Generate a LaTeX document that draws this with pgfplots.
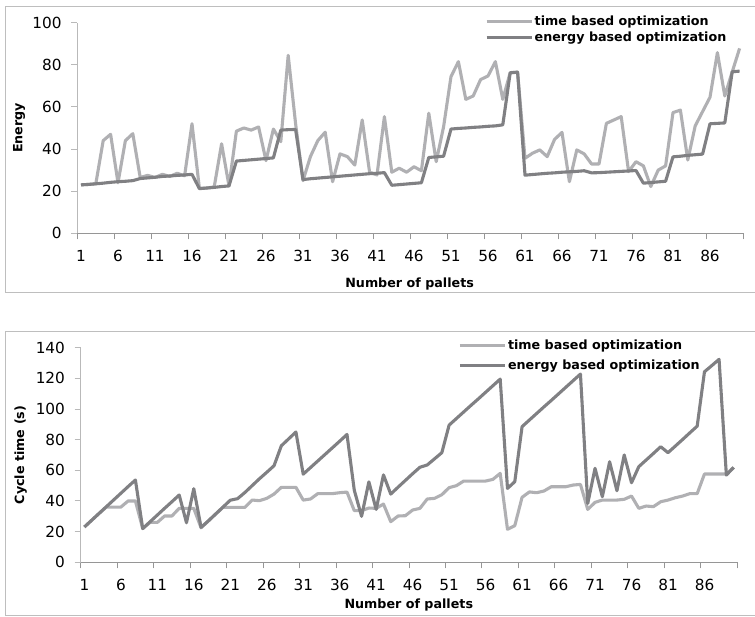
\documentclass[border=0pt]{standalone}
\usepackage{fontspec}
\setmainfont{DejaVu Sans}
\usepackage{pgfplots}
\usepackage{pgfplotstable}
\pgfplotsset{compat=1.18}
\definecolor{lightline}{RGB}{176,176,179}
\definecolor{darkline}{RGB}{128,128,131}
\definecolor{axiscol}{RGB}{150,150,150}
\definecolor{yaxiscol}{RGB}{185,185,185}
\definecolor{boxcol}{RGB}{190,190,190}
\newcommand{\tickfont}{\fontsize{15.3}{17}\selectfont}
\newcommand{\titlefont}{\fontsize{12.7}{15}\selectfont\bfseries}

\pgfplotstableread{
i T E
1 23 23
2 23.2 23.2
3 23.5 23.5
4 44 23.8
5 47 24.2
6 24 24.5
7 44 24.7
8 47.3 25
9 26.5 26
10 27.5 26.3
11 26.5 26.6
12 28 27
13 27 27.2
14 28.5 27.5
15 27.3 27.7
16 52 28
17 21.3 21.2
18 21.5 21.5
19 22 21.8
20 42.5 22.2
21 22.5 22.5
22 48.5 34.3
23 50 34.6
24 49 34.9
25 50.5 35.2
26 34.5 35.5
27 49.5 35.8
28 43.5 49
29 84.5 49.2
30 52 49.3
31 25 25.5
32 36.4 25.9
33 44 26.2
34 48 26.5
35 24.5 26.8
36 37.7 27.1
37 36.4 27.4
38 32.4 27.7
39 53.8 28
40 29 28.3
41 27.7 28.5
42 55.4 28.8
43 29 22.8
44 30.9 23.1
45 29 23.4
46 31.6 23.7
47 29.7 24
48 57 36
49 34 36.3
50 50.6 36.6
51 74.4 49.5
52 81.5 49.8
53 63.6 50
54 65.2 50.3
55 73 50.5
56 74.7 50.8
57 81.5 51
58 63.6 51.5
59 76.3 76.2
60 76.5 76.5
61 35.6 27.6
62 38 27.9
63 39.6 28.2
64 36.4 28.5
65 44.6 28.7
66 47.9 29
67 24.5 29.2
68 39.6 29.4
69 37.7 29.7
70 32.9 28.7
71 32.9 28.8
72 52.2 29
73 53.8 29.2
74 55.4 29.4
75 29.3 29.6
76 34 29.8
77 32 23.8
78 22.2 24.1
79 30 24.4
80 32 24.7
81 57.3 36.3
82 58.5 36.6
83 34.8 37
84 51 37.3
85 57.8 37.6
86 64.6 52
87 85.8 52.2
88 65.2 52.4
89 76.6 76.7
90 87.8 77
}\energytable

\pgfplotstableread{
i T E
1 23 23
2 27.4 27.4
3 31.8 31.8
4 36 36.2
5 36 40.6
6 36 45
7 40 49.4
8 40 53.7
9 22 22
10 26 26.4
11 26 30.8
12 30.2 35.2
13 30.2 39.5
14 35.2 43.9
15 35.2 25.8
16 35.2 48
17 22.5 22.8
18 27 27
19 31.5 31.5
20 35.8 36
21 35.8 40.5
22 35.8 41.5
23 35.8 45.5
24 40.6 50
25 40.2 54.5
26 41.7 58.7
27 44.5 63
28 48.9 76
29 48.9 80.5
30 48.9 85
31 40.6 57.5
32 41.3 61.8
33 44.8 66.1
34 44.8 70.4
35 44.8 74.7
36 45.4 79
37 45.8 83.4
38 33.7 47
39 33.7 30
40 35.4 52.5
41 35.2 34.5
42 38 57
43 26.5 44.5
44 30.2 49
45 30.4 53.4
46 34.1 57.8
47 35.2 62
48 41.3 63.5
49 41.7 67.5
50 44.1 71.5
51 48.7 89.5
52 50 93.8
53 53 98.1
54 53 102.4
55 53 106.6
56 53 110.9
57 54.1 115.2
58 58 119.5
59 21.5 48.2
60 23.9 52.6
61 42.4 88.5
62 45.9 92.8
63 45.4 97.1
64 46.5 101.4
65 49.3 105.6
66 49.3 109.9
67 49.3 114.2
68 50.4 118.5
69 50.8 122.8
70 34.5 38.4
71 39.1 61.3
72 40.6 42.8
73 40.6 65.6
74 40.6 46.7
75 41.1 70
76 43.2 51.9
77 35.2 62.4
78 36.7 66.7
79 36.3 71
80 39.5 75.4
81 40.6 71.5
82 42.1 75.8
83 43.2 80.1
84 44.8 84.5
85 44.8 88.8
86 57.6 124.3
87 57.6 128.3
88 57.6 132.4
89 57.6 56.9
90 61.9 61.9
}\cycletable

\pgfplotsset{
  mystyle/.style={
    scale only axis,
    anchor=south west,
    xmin=0.5, xmax=90.5,
    ymin=0,
    axis x line*=bottom,
    axis y line*=left,
    x axis line style={-, draw=axiscol, line width=1.5pt},
    y axis line style={-, draw=yaxiscol, line width=1.5pt},
    tick align=outside,
    major tick length=6pt,
    xtick={0.5,5.5,...,90.5},
    xticklabels={1,6,11,16,21,26,31,36,41,46,51,56,61,66,71,76,81,86,{}},
    x tick style={draw=axiscol, line width=1pt},
    y tick style={draw=yaxiscol, line width=1pt},
    xticklabel style={font=\tickfont, xshift=3.7pt, yshift=-7.5pt},
    yticklabel style={font=\tickfont, xshift=-6.2pt},
    /pgf/number format/assume math mode=true,
    xlabel style={font=\titlefont, anchor=center},
    ylabel style={font=\titlefont, anchor=center, rotate=0},
    legend style={draw=none, fill=none, font=\titlefont, anchor=north west,
      inner sep=0pt, nodes={inner sep=1.5pt}},
    legend cell align=left,
    legend image code/.code={\draw[##1] (0pt,0pt) -- (45pt,0pt);},
    every axis plot/.append style={line width=3.1pt, line join=round},
  }
}

\begin{document}
\begin{tikzpicture}[x=1pt,y=1pt]
\fill[white] (0,0) rectangle (755,617);
\useasboundingbox (0,0) rectangle (755,617);
% boxes
\draw[boxcol, line width=1pt] (755,610) -- (5,610) -- (5,324.3) -- (755,324.3);
\draw[boxcol, line width=1pt] (755,285.3) -- (5,285.3) -- (5,1.5) -- (755,1.5);

\begin{axis}[mystyle,
  at={(77.3pt,383.7pt)}, width=666pt, height=210.6pt,
  ymax=100, ytick={0,20,...,100},
  xlabel={Number of pallets}, ylabel={Energy},
  xlabel style={at={(axis description cs:0.499,-0.24)}},
  ylabel style={at={(axis description cs:-0.0875,0.5)}},
  legend style={at={(0.612,1.04)}, row sep=1.5pt},
]
\addplot[lightline] table[x=i,y=T] {\energytable};
\addlegendentry{time based optimization}
\addplot[darkline] table[x=i,y=E] {\energytable};
\addlegendentry{energy based optimization}
\end{axis}

\begin{axis}[mystyle,
  at={(80.7pt,54.7pt)}, width=656.6pt, height=214.6pt,
  ymax=140, ytick={0,20,...,140},
  xlabel={Number of pallets}, ylabel={Cycle time (s)},
  xlabel style={at={(axis description cs:0.4997,-0.2)}},
  ylabel style={at={(axis description cs:-0.0914,0.5)}},
  legend style={at={(0.575,1.045)}, row sep=6pt},
]
\addplot[lightline] table[x=i,y=T] {\cycletable};
\addlegendentry{time based optimization}
\addplot[darkline] table[x=i,y=E] {\cycletable};
\addlegendentry{energy based optimization}
\end{axis}
\end{tikzpicture}
\end{document}
